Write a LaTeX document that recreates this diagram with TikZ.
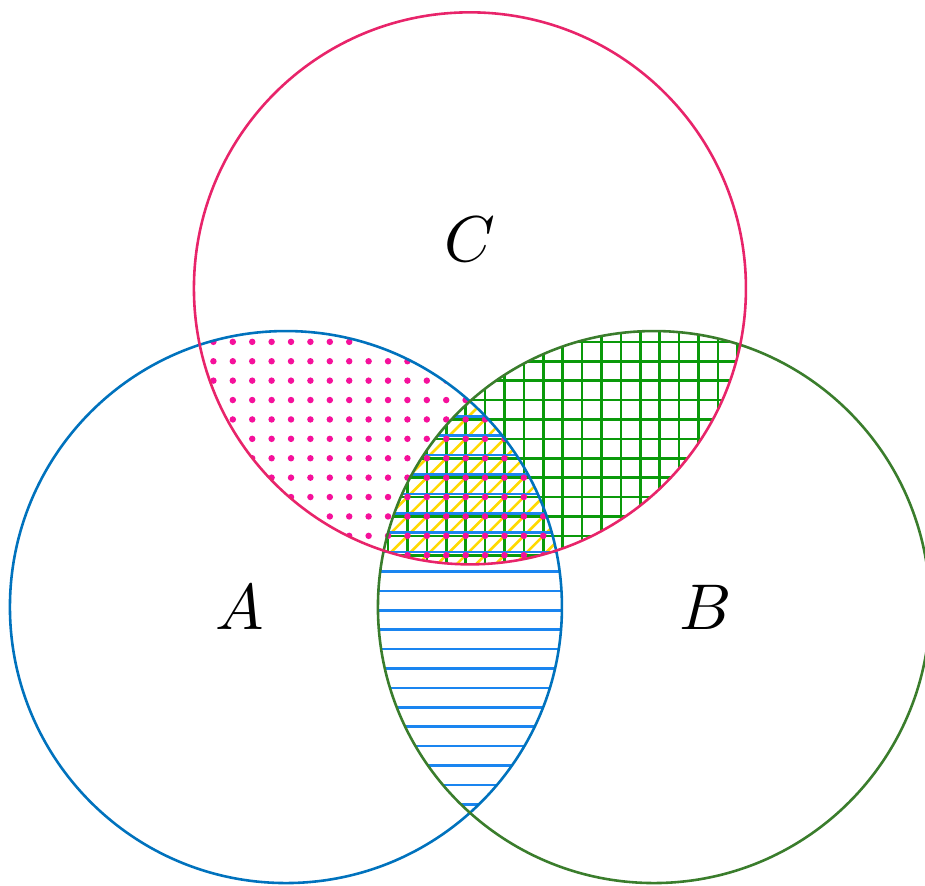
\documentclass[tikz,border=0pt]{standalone}
\usepackage{tikz}
\usetikzlibrary{patterns}
\definecolor{vennBlue}{HTML}{0072BD}
\definecolor{vennGreen}{HTML}{3A7D2C}
\definecolor{vennRed}{HTML}{E8246A}
\definecolor{dotPink}{HTML}{F5109B}
\definecolor{gridGreen}{HTML}{0A9A0A}
\definecolor{lineBlue}{HTML}{1A85F0}
\definecolor{hatchYellow}{HTML}{FFD900}

\begin{document}
\begin{tikzpicture}[every node/.style={font=\normalsize}]
            \useasboundingbox (-1.554,-1.511) rectangle (3.473,3.299);
            \def\circA{(0,0) circle (1.5)}
            \def\circB{(2,0) circle (1.5)}
            \def\circC{(1,1.732) circle (1.5)}
            % A, B and C together
            \begin{scope}
                \clip \circA; \clip \circB;
                \fill[pattern=north east lines, pattern color=hatchYellow] \circC;
            \end{scope}
            % B and C
            \begin{scope}
                \clip \circB;
                \fill[pattern=grid, pattern color=gridGreen] \circC;
            \end{scope}
            % A and B
            \begin{scope}
                \clip \circA;
                \fill[pattern=horizontal lines, pattern color=lineBlue] \circB;
            \end{scope}
            % A and C
            \begin{scope}
                \clip \circA;
                \fill[pattern=dots, pattern color=dotPink] \circC;
            \end{scope}
            \draw[vennBlue] \circA;
            \draw[vennGreen] \circB;
            \draw[vennRed] \circC;
            \node (labA) at (-0.25,0) {$A$};
            \node (labB) at (2.28,0) {$B$};
            \node (labC) at (1,2) {$C$};
        \end{tikzpicture}
\end{document}
